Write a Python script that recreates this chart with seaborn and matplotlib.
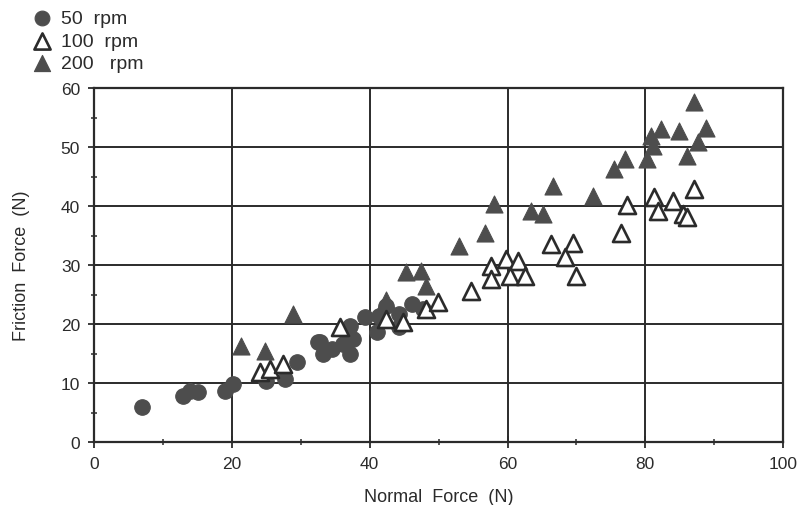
import matplotlib
matplotlib.use("Agg")
import matplotlib.pyplot as plt
import seaborn as sns
import pandas as pd
from matplotlib.ticker import MultipleLocator

# Friction force vs. normal force at three spindle speeds
x50 = [7, 12.9, 13.9, 15.1, 19, 20.2, 24.9, 27.7, 29.4, 32.5, 32.8, 33.2, 34.6,
       36.1, 37.1, 37.6, 37.1, 39.3, 41, 41.4, 42.4, 44.3, 44.3, 46.2, 47.7]
y50 = [5.9, 7.8, 8.7, 8.4, 8.7, 9.8, 10.4, 10.7, 13.5, 17, 16.9, 14.9, 15.8,
       16.6, 19.7, 17.4, 14.9, 21.2, 18.6, 21.4, 23, 21.7, 19.5, 23.4, 22.5]

x100 = [24.1, 25.5, 27.4, 35.7, 42.4, 44.8, 48.2, 49.9, 54.7, 57.6, 57.6, 59.8,
        61.5, 60.3, 62.5, 66.3, 69.5, 68.3, 69.9, 76.5, 77.4, 81.3, 81.8, 84,
        85.4, 86.1, 87.1]
y100 = [11.8, 12.4, 13.2, 19.5, 20.8, 20.3, 22.5, 23.7, 25.6, 29.9, 27.6, 31,
        30.7, 28.2, 28.2, 33.6, 33.8, 31.3, 28.2, 35.5, 40.1, 41.5, 39.2, 40.9,
        38.6, 38.1, 42.9]

x200 = [21.4, 24.8, 28.9, 42.4, 45.3, 47.5, 48.2, 53, 56.7, 58.1, 63.4, 65.1,
        66.6, 72.4, 75.5, 77, 80.3, 81.1, 80.8, 82.3, 84.9, 86.1, 87.6, 87.1,
        88.8]
y200 = [16.3, 15.5, 21.7, 24, 28.8, 29, 26.5, 33.3, 35.5, 40.3, 39.2, 38.6,
        43.4, 41.7, 46.3, 48, 48, 50.2, 51.9, 53.1, 52.8, 48.5, 50.8, 57.6,
        53.3]

series_labels = ["50  rpm", "100  rpm", "200   rpm"]

df = pd.concat([
    pd.DataFrame({"normal": x50, "friction": y50, "speed": series_labels[0]}),
    pd.DataFrame({"normal": x100, "friction": y100, "speed": series_labels[1]}),
    pd.DataFrame({"normal": x200, "friction": y200, "speed": series_labels[2]}),
])

sns.set_theme(style="white")
plt.rcParams["font.family"] = ["Liberation Sans", "DejaVu Sans"]

ink = "#2b2b2b"
fill = "#4d4d4d"

fig = plt.figure(figsize=(8.0, 5.06), dpi=100)
ax = fig.add_axes([0.1175, 0.1245, 0.8615, 0.6995])

styles = {
    series_labels[0]: dict(marker="o", s=125, color=fill, edgecolor=fill, linewidth=0.8),
    series_labels[1]: dict(marker="^", s=150, facecolor="white", edgecolor=ink, linewidth=1.9),
    series_labels[2]: dict(marker="^", s=150, color=fill, edgecolor=fill, linewidth=0.8),
}
for lab in series_labels:
    sub = df[df["speed"] == lab]
    sns.scatterplot(data=sub, x="normal", y="friction", ax=ax, label=lab,
                    zorder=3, **styles[lab])

ax.set_xlim(0, 100)
ax.set_ylim(0, 60)
ax.xaxis.set_major_locator(MultipleLocator(20))
ax.xaxis.set_minor_locator(MultipleLocator(10))
ax.yaxis.set_major_locator(MultipleLocator(10))
ax.yaxis.set_minor_locator(MultipleLocator(5))
ax.grid(True, which="major", color=ink, linewidth=1.4, zorder=1)
ax.set_axisbelow(True)
for sp in ax.spines.values():
    sp.set_color(ink)
    sp.set_linewidth(1.6)
ax.tick_params(which="major", direction="inout", length=8, width=1.3,
               colors=ink, labelsize=12.5, pad=6, left=True, bottom=True)
ax.tick_params(which="minor", direction="inout", length=5, width=1.1,
               colors=ink, left=True, bottom=True)

ax.set_xlabel("Normal  Force  (N)", fontsize=13, color=ink, labelpad=12)
ax.set_ylabel("Friction  Force  (N)", fontsize=13, color=ink, labelpad=22)

leg = ax.legend(loc="upper left", bbox_to_anchor=(0.03, 0.994),
                bbox_transform=fig.transFigure, frameon=False, fontsize=14,
                handletextpad=0.5, labelspacing=0.25, borderaxespad=0,
                handlelength=1.0, markerscale=0.95)
for t in leg.get_texts():
    t.set_color(ink)

fig.savefig("out.png", dpi=100, facecolor="white")
